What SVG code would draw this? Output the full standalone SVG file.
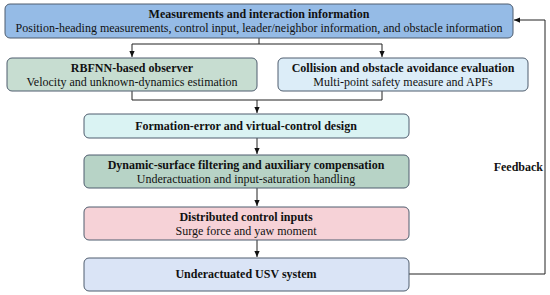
<svg xmlns="http://www.w3.org/2000/svg" width="550" height="295" viewBox="0 0 550 295">
<style>
.box{stroke:#4f5d6e;stroke-width:1}
.t{font-family:"Liberation Serif",serif;font-size:12px;fill:#111;text-anchor:middle}
.b{font-weight:bold}
.c{fill:none;stroke:#222;stroke-width:1}
</style>
<defs>
<marker id="ah" viewBox="0 0 8 8" refX="8" refY="4" markerWidth="6" markerHeight="6" orient="auto"><path d="M0,0.5 L8,4 L0,7.5 Z" fill="#111"/></marker>
</defs>
<rect width="550" height="295" fill="#fff"/>
<g id="connectors">
<path class="c" d="M259,38 V44 M132,44 H382"/>
<path class="c" d="M132,44 V57" marker-end="url(#ah)"/>
<path class="c" d="M382,44 V57" marker-end="url(#ah)"/>
<path class="c" d="M132,91 V100 H382 V91"/>
<path class="c" d="M257,100 V113" marker-end="url(#ah)"/>
<path class="c" d="M257,138 V154" marker-end="url(#ah)"/>
<path class="c" d="M257,188 V206" marker-end="url(#ah)"/>
<path class="c" d="M257,240 V257" marker-end="url(#ah)"/>
<path class="c" d="M409,274 H545 V20 H514" marker-end="url(#ah)"/>
<text class="t b" x="543" y="171" style="text-anchor:end">Feedback</text>
</g>
<g id="measurements">
<rect class="box" x="5" y="4" width="508" height="34" rx="5" fill="#95bbe6"/>
<text class="t b" x="259" y="18">Measurements and interaction information</text>
<text class="t" x="259" y="32">Position-heading measurements, control input, leader/neighbor information, and obstacle information</text>
</g>
<g id="rbfnn">
<rect class="box" x="7" y="58" width="250" height="33" rx="5" fill="#c7ddd1"/>
<text class="t b" x="132" y="72">RBFNN-based observer</text>
<text class="t" x="132" y="86">Velocity and unknown-dynamics estimation</text>
</g>
<g id="collision">
<rect class="box" x="278" y="58" width="250" height="33" rx="5" fill="#dcedf8"/>
<text class="t b" x="403" y="72">Collision and obstacle avoidance evaluation</text>
<text class="t" x="403" y="86">Multi-point safety measure and APFs</text>
</g>
<g id="formation">
<rect class="box" x="84" y="114" width="325" height="24" rx="5" fill="#daf3f3"/>
<text class="t b" x="246" y="130">Formation-error and virtual-control design</text>
</g>
<g id="dynamic">
<rect class="box" x="84" y="155" width="325" height="33" rx="5" fill="#b7d3c6"/>
<text class="t b" x="246" y="169">Dynamic-surface filtering and auxiliary compensation</text>
<text class="t" x="246" y="183">Underactuation and input-saturation handling</text>
</g>
<g id="distributed">
<rect class="box" x="84" y="207" width="325" height="33" rx="5" fill="#f6d2d7"/>
<text class="t b" x="246" y="221">Distributed control inputs</text>
<text class="t" x="246" y="235">Surge force and yaw moment</text>
</g>
<g id="usv">
<rect class="box" x="84" y="258" width="325" height="33" rx="5" fill="#dae4f6"/>
<text class="t b" x="246" y="278">Underactuated USV system</text>
</g>
</svg>
